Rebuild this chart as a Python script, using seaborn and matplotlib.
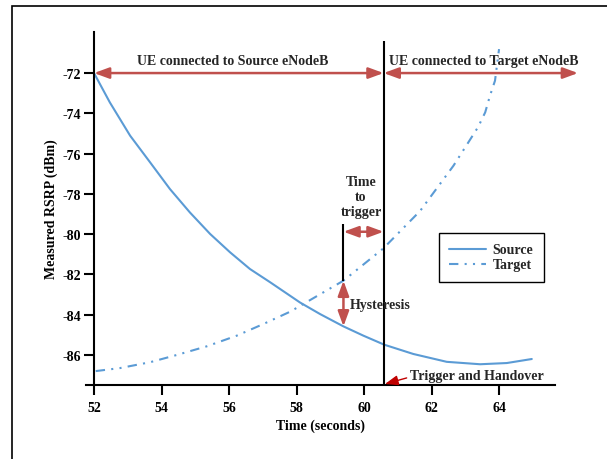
import matplotlib
matplotlib.use("Agg")
import matplotlib.pyplot as plt
from matplotlib.patches import Rectangle
import seaborn as sns

# Valeurs (temps en secondes, RSRP en dBm)
source_time = [52.0, 52.47, 53.07, 53.66, 54.25, 54.84, 55.44, 56.03, 56.62, 57.22,
               57.81, 58.10, 58.70, 59.39, 59.98, 60.60, 61.46, 62.45, 63.44, 64.23, 64.97]
source_rsrp = [-72.0, -73.46, -75.11, -76.43, -77.76, -78.92, -79.99, -80.90, -81.73, -82.39,
               -83.06, -83.39, -83.97, -84.58, -85.04, -85.49, -85.95, -86.34, -86.46, -86.40, -86.20]

target_time = [52.05, 52.77, 53.66, 54.45, 55.34, 56.23, 57.02, 57.81, 59.39, 60.57,
               61.66, 62.65, 63.38, 63.59, 63.73, 63.88, 64.0]
target_rsrp = [-86.80, -86.65, -86.36, -86.00, -85.57, -85.04, -84.46, -83.85, -82.31, -80.71,
               -78.85, -76.60, -74.68, -73.95, -73.13, -72.38, -70.81]

x_ticks = [52, 54, 56, 58, 60, 62, 64]
y_ticks = [-86, -84, -82, -80, -78, -76, -74, -72]

# Instants et niveaux des annotations
handover_t = 60.58
trigger_t = 59.39
ttt_level = -79.88
connected_level = -72.0
target_arrow_end = 66.34

BLUE = "#5B9BD5"
RED = "#C0504D"

sns.set_theme(style="white")
plt.rcParams["font.family"] = ["Liberation Serif", "DejaVu Serif"]
plt.rcParams["font.weight"] = "bold"
plt.rcParams["axes.labelweight"] = "bold"
plt.rcParams["axes.unicode_minus"] = False

fig = plt.figure(figsize=(6.07, 4.60), dpi=100)
ax = fig.add_axes([0.1417, 0.1609, 0.7727, 0.7674])

# Courbes
sns.lineplot(x=source_time, y=source_rsrp, ax=ax, color=BLUE, lw=1.5,
             label="Source", sort=False)
sns.lineplot(x=target_time, y=target_rsrp, ax=ax, color=BLUE, lw=1.5,
             linestyle=(0, (4.5, 3, 1, 3, 1, 3)), label="Target", sort=False)

ax.set_xlim(51.763, 65.659)
ax.set_ylim(-87.49, -69.96)
ax.set_xticks(x_ticks)
ax.set_yticks(y_ticks)

for side in ["top", "right"]:
    ax.spines[side].set_visible(False)
ax.spines["left"].set_position(("data", 52))
for side in ["left", "bottom"]:
    ax.spines[side].set_color("black")
    ax.spines[side].set_linewidth(1.5)
ax.tick_params(axis="both", bottom=True, left=True, direction="out", length=7.5,
               width=1.5, labelsize=10, pad=2, colors="black")
ax.tick_params(axis="x", pad=4)

ax.set_xlabel("Time (seconds)", fontsize=10, labelpad=3, color="black")
ax.set_ylabel("Measured RSRP (dBm)", fontsize=10, labelpad=3, color="black")

# Ligne verticale du handover et du début du time-to-trigger
ax.vlines(handover_t, -87.49, -70.41, color="black", lw=1.5)
ax.vlines(trigger_t, -82.31, -79.5, color="black", lw=1.5)

arrow_kw = dict(arrowstyle="<|-|>,head_length=0.6,head_width=0.22", color=RED,
                lw=1.8, mutation_scale=15, shrinkA=0, shrinkB=0)

ax.annotate("", xy=(handover_t, connected_level), xytext=(52, connected_level),
            arrowprops=arrow_kw, annotation_clip=False)
ax.annotate("", xy=(target_arrow_end, connected_level), xytext=(handover_t, connected_level),
            arrowprops=arrow_kw, annotation_clip=False)
ax.annotate("", xy=(handover_t, ttt_level), xytext=(trigger_t, ttt_level),
            arrowprops=arrow_kw)
ax.annotate("", xy=(trigger_t, -84.58), xytext=(trigger_t, -82.31),
            arrowprops=arrow_kw)

ax.text(56.12, -71.40, "UE connected to Source eNodeB", ha="center", va="center", fontsize=10)
ax.text(63.56, -71.40, "UE connected to Target eNodeB", ha="center", va="center", fontsize=10)
ax.text(59.91, -78.14, "Time\nto\ntrigger", ha="center", va="center", fontsize=10)
ax.text(59.57, -83.50, "Hysteresis", ha="left", va="center", fontsize=10)

ax.annotate("Trigger and Handover", xy=(handover_t + 0.04, -87.44), xytext=(61.36, -87.03),
            ha="left", va="center", fontsize=10, annotation_clip=False,
            arrowprops=dict(arrowstyle="-|>,head_length=0.8,head_width=0.3", color="#C00000",
                            lw=1, mutation_scale=10, shrinkA=0, shrinkB=0, relpos=(0, 0.4)))

leg = ax.legend(loc="upper left", bbox_to_anchor=(0.7527, 0.4306), borderaxespad=0,
                fontsize=10, frameon=True, fancybox=False, framealpha=1, edgecolor="black",
                handlelength=2.6, handletextpad=0.5, borderpad=0.75, labelspacing=0.15)
leg.get_frame().set_linewidth(1.0)

# Cadre extérieur de la figure
fig.add_artist(Rectangle((12 / 607, -0.1), 1.2, 1.1 - 7 / 460, transform=fig.transFigure,
                         fill=False, ec="black", lw=1.2))

fig.savefig("out.png", dpi=100)
